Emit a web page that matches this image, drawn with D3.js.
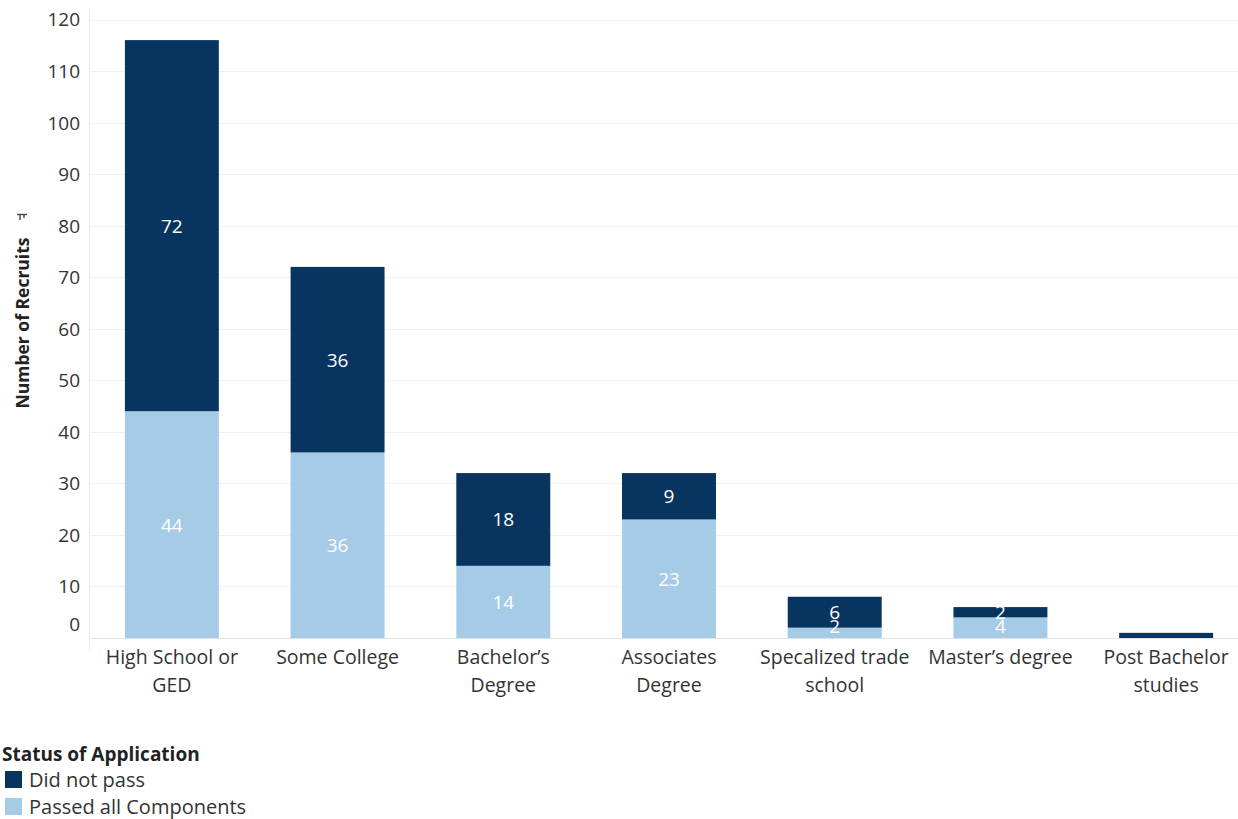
<!DOCTYPE html>
<html>
<head>
<meta charset="utf-8">
<script src="https://cdn.jsdelivr.net/npm/d3@7/dist/d3.min.js"></script>
<style>
  html, body { margin: 0; padding: 0; background: #fff; }
  svg { display: block; font-family: "Open Sans", "Noto Sans", sans-serif; }
</style>
</head>
<body>
<svg id="chart" width="1238" height="819"></svg>
<script>
// Education levels of recruits, split by application status
const categories = [
  ["High School or", "GED"],
  ["Some College"],
  ["Bachelor\u2019s", "Degree"],
  ["Associates", "Degree"],
  ["Specalized trade", "school"],
  ["Master\u2019s degree"],
  ["Post Bachelor", "studies"]
];
const passedAll = [44, 36, 14, 23, 2, 4, 0];
const didNotPass = [72, 36, 18, 9, 6, 2, 1];
const passedLabels = ["44", "36", "14", "23", "2", "4", null];
const failedLabels = ["72", "36", "18", "9", "6", "2", null];
const yTicks = [0, 10, 20, 30, 40, 50, 60, 70, 80, 90, 100, 110, 120];
const seriesNames = ["Did not pass", "Passed all Components"];
const colors = { fail: "#08355f", pass: "#a5cbe7" };

(function draw() {
  const svg = d3.select("#chart");
  const W = 1238;
  const plotLeft = 89, plotRight = 1249, plotTop = 19.5, plotBottom = 638;

  const keys = categories.map(c => c.join(" "));
  const x = d3.scaleBand().domain(keys).range([plotLeft, plotRight])
    .paddingInner(0.433).paddingOuter(0.2165);
  const y = d3.scaleLinear().domain([0, 120]).range([plotBottom, plotTop]);

  // gridlines
  svg.append("g").selectAll("line").data(yTicks).join("line")
    .attr("x1", plotLeft).attr("x2", W)
    .attr("y1", d => Math.round(y(d)) + 0.5).attr("y2", d => Math.round(y(d)) + 0.5)
    .attr("stroke", d => d === 0 ? "#e2e2e2" : "#f0f0f0").attr("stroke-width", 1);

  // left axis rule
  svg.append("line").attr("x1", plotLeft + 0.5).attr("x2", plotLeft + 0.5)
    .attr("y1", 8).attr("y2", 650).attr("stroke", "#ececec");

  // y tick labels
  const yAxis = d3.axisLeft(y).tickValues(yTicks).tickSize(0).tickPadding(9);
  const ya = svg.append("g").attr("transform", `translate(${plotLeft},0)`).call(yAxis);
  ya.select(".domain").remove();
  ya.selectAll("text")
    .attr("font-size", 19).attr("fill", "#333")
    .attr("font-family", "'Open Sans', 'Noto Sans', sans-serif")
    .attr("dy", d => d === 0 ? "-0.38em" : "0.34em");

  // stacked bars
  const rows = keys.map((k, i) => ({ k, pass: passedAll[i], fail: didNotPass[i], pl: passedLabels[i], fl: failedLabels[i] }));
  const bars = svg.append("g");
  rows.forEach(r => {
    const x0 = x(r.k), bw = x.bandwidth();
    if (r.pass > 0) {
      bars.append("rect").attr("x", x0).attr("width", bw)
        .attr("y", y(r.pass)).attr("height", y(0) - y(r.pass)).attr("fill", colors.pass);
    }
    bars.append("rect").attr("x", x0).attr("width", bw)
      .attr("y", y(r.pass + r.fail)).attr("height", y(r.pass) - y(r.pass + r.fail)).attr("fill", colors.fail);
    const mid = (a, b) => (y(a) + y(b)) / 2;
    if (r.fl) {
      bars.append("text").attr("x", x0 + bw / 2).attr("y", Math.min(mid(r.pass, r.pass + r.fail), y(r.pass) - 4))
        .attr("text-anchor", "middle").attr("dominant-baseline", "central")
        .attr("font-size", 19).attr("fill", "#fff").text(r.fl);
    }
    if (r.pl) {
      bars.append("text").attr("x", x0 + bw / 2).attr("y", Math.min(mid(0, r.pass), y(0) - 12))
        .attr("text-anchor", "middle").attr("dominant-baseline", "central")
        .attr("font-size", 19).attr("fill", "#fff").text(r.pl);
    }
  });

  // x category labels
  const xl = svg.append("g");
  categories.forEach((lines, i) => {
    const cx = x(keys[i]) + x.bandwidth() / 2;
    const t = xl.append("text").attr("x", cx).attr("y", 664)
      .attr("text-anchor", "middle").attr("font-size", 19.5).attr("fill", "#333");
    lines.forEach((ln, j) => t.append("tspan").attr("x", cx).attr("dy", j === 0 ? 0 : 28).text(ln));
  });

  // y axis title with sort indicator
  svg.append("text").attr("transform", "translate(29,323) rotate(-90)")
    .attr("text-anchor", "middle").attr("font-size", 17.5).attr("font-weight", "bold").attr("fill", "#222")
    .text("Number of Recruits");
  const si = svg.append("g").attr("stroke", "#444").attr("stroke-width", 1.4);
  si.append("line").attr("x1", 17).attr("x2", 27).attr("y1", 214.5).attr("y2", 214.5);
  si.append("line").attr("x1", 20).attr("x2", 20).attr("y1", 214).attr("y2", 220);
  si.append("line").attr("x1", 24).attr("x2", 24).attr("y1", 214).attr("y2", 218);

  // legend
  const lg = svg.append("g");
  lg.append("text").attr("x", 2).attr("y", 761).attr("font-size", 19).attr("font-weight", "bold")
    .attr("fill", "#222").text("Status of Application");
  [colors.fail, colors.pass].forEach((c, i) => {
    lg.append("rect").attr("x", 5).attr("y", 771 + i * 27).attr("width", 17).attr("height", 17).attr("fill", c);
    lg.append("text").attr("x", 29).attr("y", 787 + i * 27).attr("font-size", 20).attr("fill", "#333").text(seriesNames[i]);
  });
})();
</script>
</body>
</html>
